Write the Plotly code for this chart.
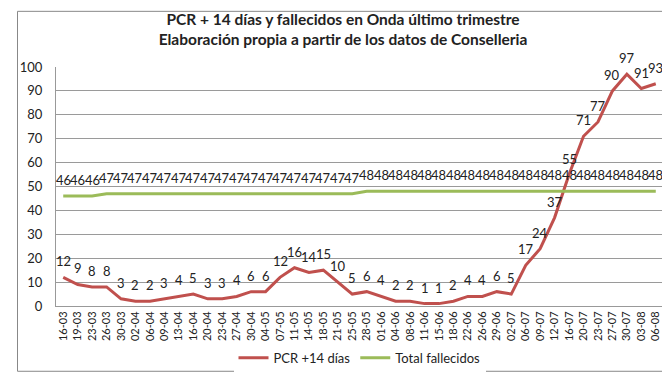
import plotly.graph_objects as go

fechas = ["16-03","19-03","23-03","26-03","30-03","02-04","06-04","09-04","13-04","16-04",
          "20-04","23-04","27-04","30-04","04-05","07-05","11-05","14-05","18-05","21-05",
          "25-05","28-05","01-06","04-06","08-06","11-06","15-06","18-06","22-06","26-06",
          "29-06","02-07","06-07","09-07","12-07","16-07","20-07","23-07","27-07","30-07",
          "03-08","06-08"]
pcr = [12,9,8,8,3,2,2,3,4,5,3,3,4,6,6,12,16,14,15,10,5,6,4,2,2,1,1,2,4,4,6,5,
       17,24,37,55,71,77,90,97,91,93]
fallecidos = [46,46,46] + [47]*18 + [48]*21

FONT = "Lato, Carlito, Calibri, sans-serif"

fig = go.Figure()
fig.add_trace(go.Scatter(x=fechas, y=pcr, name="PCR +14 días", mode="lines",
                         line=dict(color="#C0504D", width=3), cliponaxis=False))
fig.add_trace(go.Scatter(x=fechas, y=fallecidos, name="Total fallecidos", mode="lines",
                         line=dict(color="#9BBB59", width=3), cliponaxis=False))

annotations = []
for serie in (pcr, fallecidos):
    for f, v in zip(fechas, serie):
        annotations.append(dict(x=f, y=v, xref="x", yref="y", text=str(v), showarrow=False,
                                yshift=16, font=dict(size=13, family=FONT, color="#222")))

L, R, T, B = 40, 15, 59, 69
W, H = 670, 377
pw, ph = W - L - R, H - T - B

fig.update_layout(
    width=W, height=H,
    margin=dict(l=L, r=R, t=T, b=B),
    paper_bgcolor="white", plot_bgcolor="white",
    font=dict(family=FONT, color="#222"),
    title=dict(text="<b>PCR + 14 días y fallecidos en Onda último trimestre<br>Elaboración propia a partir de los datos de Conselleria</b>",
               x=0.5, xanchor="center", y=0.955, yanchor="top",
               font=dict(size=15.5, family=FONT, color="#222")),
    annotations=annotations,
    showlegend=True,
    legend=dict(orientation="h", x=0.5, xanchor="center", y=-54/ph, yanchor="middle",
                font=dict(size=13, family=FONT), itemwidth=30),
    xaxis=dict(type="category", tickangle=-90, tickfont=dict(size=11, family=FONT),
               showgrid=False, showline=True, linecolor="#999", ticks="",
               range=[-0.5, len(fechas) - 0.5]),
    yaxis=dict(range=[0, 100], dtick=10, tickfont=dict(size=13, family=FONT),
               showgrid=True, gridcolor="#9a9a9a", gridwidth=1, zeroline=False,
               showline=True, linecolor="#999", ticks="", ticklabelstandoff=10),
)
fig.add_shape(type="rect", xref="paper", yref="paper",
              x0=-(L - 1) / pw, x1=1 + (R - 1) / pw, y0=-(B - 1) / ph, y1=1 + (T - 1) / ph,
              line=dict(color="#888", width=1), layer="below")
fig.write_html("out.html")
